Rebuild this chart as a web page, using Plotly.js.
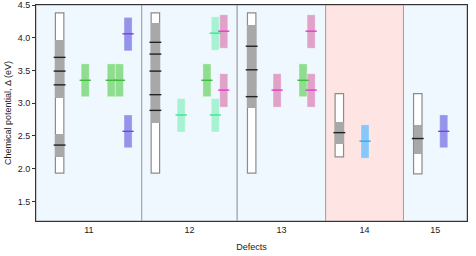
<!DOCTYPE html>
<html>
<head>
<meta charset="utf-8">
<script src="https://cdn.plot.ly/plotly-3.0.1.min.js"></script>
<style>html,body{margin:0;padding:0;background:#fff}#chart{width:476px;height:256px}</style>
</head>
<body>
<div id="chart"></div>
<script>
// ---- data ----
const defectLabels = ['11', '12', '13', '14', '15'];
const groupBounds = [0, 12.27, 23.34, 33.6, 42.63, 50];
const groupColors = ['#f0f8ff', '#f0f8ff', '#f0f8ff', '#ffe4e4', '#f0f8ff'];

// gray range bars (one per defect)
const rangeX = [2.74, 13.85, 25.02, 35.19, 44.29];
const rangeLo = [1.93, 1.93, 1.93, 2.18, 1.92];
const rangeHi = [4.38, 4.38, 4.38, 3.145, 3.145];

// gray filled segments
const segX = [2.74, 2.74, 13.85, 25.02, 35.19, 44.29];
const segLo = [3.08, 2.18, 2.70, 2.92, 2.37, 2.22];
const segHi = [3.97, 2.53, 4.22, 4.19, 2.71, 2.67];

// black level lines
const levX = [2.74, 2.74, 2.74, 2.74, 13.85, 13.85, 13.85, 13.85, 13.85, 25.02, 25.02, 25.02, 35.19, 44.29];
const levY = [3.70, 3.49, 3.28, 2.36, 3.93, 3.75, 3.49, 3.13, 2.89, 3.87, 3.51, 3.10, 2.55, 2.46];

// coloured series
const greenX = [5.71, 8.73, 9.68, 19.83, 30.98];
const greenLo = [3.10, 3.10, 3.10, 3.10, 3.10];
const greenHi = [3.60, 3.60, 3.60, 3.60, 3.60];
const greenMid = [3.35, 3.35, 3.35, 3.35, 3.35];

const aquaX = [16.84, 20.8, 20.8];
const aquaLo = [2.56, 3.81, 2.56];
const aquaHi = [3.07, 4.32, 3.07];
const aquaMid = [2.82, 4.07, 2.82];

const pinkX = [21.78, 21.78, 27.97, 31.92, 31.92];
const pinkLo = [3.84, 2.94, 2.94, 3.84, 2.94];
const pinkHi = [4.35, 3.45, 3.45, 4.35, 3.45];
const pinkMid = [4.10, 3.20, 3.20, 4.10, 3.20];

const purpleX = [10.68, 10.68, 47.3];
const purpleLo = [3.80, 2.32, 2.32];
const purpleHi = [4.31, 2.82, 2.82];
const purpleMid = [4.06, 2.57, 2.57];

const skyX = [38.17];
const skyLo = [2.16];
const skyHi = [2.67];
const skyMid = [2.42];

// ---- build ----
const BW = 0.93;
function diff(hi, lo) { return hi.map((h, i) => h - lo[i]); }
function barTrace(x, lo, hi, fill, lineColor, lineW, w) {
  return {
    type: 'bar', x: x, y: diff(hi, lo), base: lo, width: w || BW,
    marker: { color: fill, line: { color: lineColor || 'rgba(255,255,255,0.45)', width: lineW === undefined ? 0.6 : lineW } },
    hoverinfo: 'skip', showlegend: false
  };
}
function lineTrace(x, y, color, size) {
  return {
    type: 'scatter', mode: 'markers', x: x, y: y,
    marker: { symbol: 'line-ew', size: size || 8, line: { color: color, width: 1.4 } },
    hoverinfo: 'skip', showlegend: false, cliponaxis: false
  };
}

const traces = [
  barTrace(rangeX, rangeLo, rangeHi, '#ffffff', '#8c8c8c', 1.2, 0.98),
  barTrace(segX, segLo, segHi, '#a8a8a8', 'rgba(0,0,0,0)', 0, 0.98),
  lineTrace(levX, levY, '#222222', 8.5),
  barTrace(greenX, greenLo, greenHi, '#8fde8f'),
  lineTrace(greenX, greenMid, '#3fb83f'),
  barTrace(aquaX, aquaLo, aquaHi, '#a8f2d4'),
  lineTrace(aquaX, aquaMid, '#3ee58c'),
  barTrace(pinkX, pinkLo, pinkHi, '#e0a2c9'),
  lineTrace(pinkX, pinkMid, '#e23cc8'),
  barTrace(purpleX, purpleLo, purpleHi, '#9494ea'),
  lineTrace(purpleX, purpleMid, '#7c3ee6'),
  barTrace(skyX, skyLo, skyHi, '#88c8f8'),
  lineTrace(skyX, skyMid, '#30aef0')
];

const shapes = groupColors.map((c, i) => ({
  type: 'rect', xref: 'x', yref: 'paper', layer: 'below',
  x0: groupBounds[i], x1: groupBounds[i + 1], y0: 0, y1: 1,
  fillcolor: c, line: { color: '#a0a0a0', width: 1 }
}));

const tickvals = defectLabels.map((_, i) => (groupBounds[i] + groupBounds[i + 1]) / 2);

const layout = {
  width: 476, height: 256,
  margin: { l: 36, r: 8.5, t: 5, b: 35 },
  paper_bgcolor: '#ffffff', plot_bgcolor: '#ffffff',
  barmode: 'overlay', bargap: 0,
  font: { family: 'Liberation Sans, Arial, sans-serif', size: 9, color: '#222' },
  shapes: shapes,
  xaxis: {
    range: [groupBounds[0], groupBounds[groupBounds.length - 1]],
    tickmode: 'array', tickvals: tickvals, ticktext: defectLabels,
    ticks: '', showgrid: false, zeroline: false,
    showline: true, linecolor: '#333', linewidth: 1, mirror: true,
    tickfont: { size: 9 },
    title: { text: 'Defects', font: { size: 9 }, standoff: 9 }
  },
  yaxis: {
    range: [1.2, 4.5], dtick: 0.5, tick0: 1.5, tickformat: '.1f',
    ticks: 'outside', ticklen: 3, tickcolor: '#333',
    showgrid: false, zeroline: false,
    showline: true, linecolor: '#333', linewidth: 1, mirror: true,
    tickfont: { size: 9 },
    title: { text: 'Chemical potential, Δ (eV)', font: { size: 9 }, standoff: 4 }
  }
};

Plotly.newPlot('chart', traces, layout, { staticPlot: true, displayModeBar: false });
</script>
</body>
</html>
